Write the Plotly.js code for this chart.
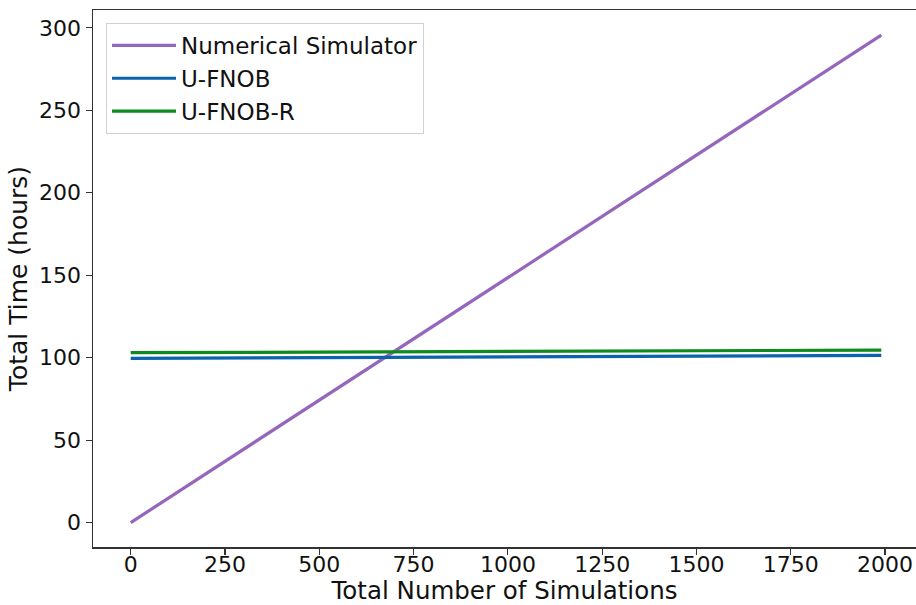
<!DOCTYPE html>
<html>
<head>
<meta charset="utf-8">
<script src="https://cdn.plot.ly/plotly-3.0.1.min.js"></script>
<style>html,body{margin:0;padding:0;background:#fff;}#chart{width:916px;height:605px;}</style>
</head>
<body>
<div id="chart"></div>
<script>
const simulations = [0, 1990];
const numericalSimulator = [0, 295.6];
const uFNOB = [99.6, 101.4];
const uFNOBR = [103.0, 104.6];
const xTicks = [0, 250, 500, 750, 1000, 1250, 1500, 1750, 2000];
const yTicks = [0, 50, 100, 150, 200, 250, 300];

const font = 'DejaVu Sans, sans-serif';
const traces = [
  {x: simulations, y: numericalSimulator, name: 'Numerical Simulator', mode: 'lines', line: {color: '#9467bd', width: 3.2}, legendgroup: 'a'},
  {x: simulations, y: uFNOB, name: 'U-FNOB', mode: 'lines', line: {color: '#0b62ad', width: 3.2}, legendgroup: 'b'},
  {x: simulations, y: uFNOBR, name: 'U-FNOB-R', mode: 'lines', line: {color: '#0e8a1e', width: 3.2}, legendgroup: 'c'}
];
const axisCommon = {
  showgrid: false, zeroline: false, showline: true, linecolor: '#333', linewidth: 1.5,
  ticks: 'outside', ticklen: 6, tickwidth: 1.2, tickcolor: '#333',
  tickfont: {family: font, size: 22, color: '#111'}
};
const layout = {
  width: 916, height: 605,
  margin: {l: 93, r: 0, t: 10, b: 58},
  paper_bgcolor: '#fff', plot_bgcolor: '#fff',
  font: {family: font, color: '#111'},
  xaxis: Object.assign({}, axisCommon, {
    range: [-100, 2082], tickvals: xTicks, ticktext: xTicks.map(String), mirror: true,
    ticklabelstandoff: -9,
    title: {text: 'Total Number of Simulations', font: {family: font, size: 24.5, color: '#111'}, standoff: 4}
  }),
  yaxis: Object.assign({}, axisCommon, {
    range: [-14.8, 310.8], tickvals: yTicks, ticktext: yTicks.map(String),
    title: {text: 'Total Time (hours)', font: {family: font, size: 25, color: '#111'}, standoff: 4}
  }),
  showlegend: true,
  legend: {
    x: 0.0158, y: 0.976, xanchor: 'left', yanchor: 'top',
    bgcolor: 'rgba(255,255,255,0.85)', bordercolor: '#d0d0d0', borderwidth: 1,
    font: {family: font, size: 23, color: '#111'},
    traceorder: 'grouped', tracegroupgap: 0, itemwidth: 64
  }
};
Plotly.newPlot('chart', traces, layout, {displayModeBar: false, staticPlot: true});
</script>
</body>
</html>
